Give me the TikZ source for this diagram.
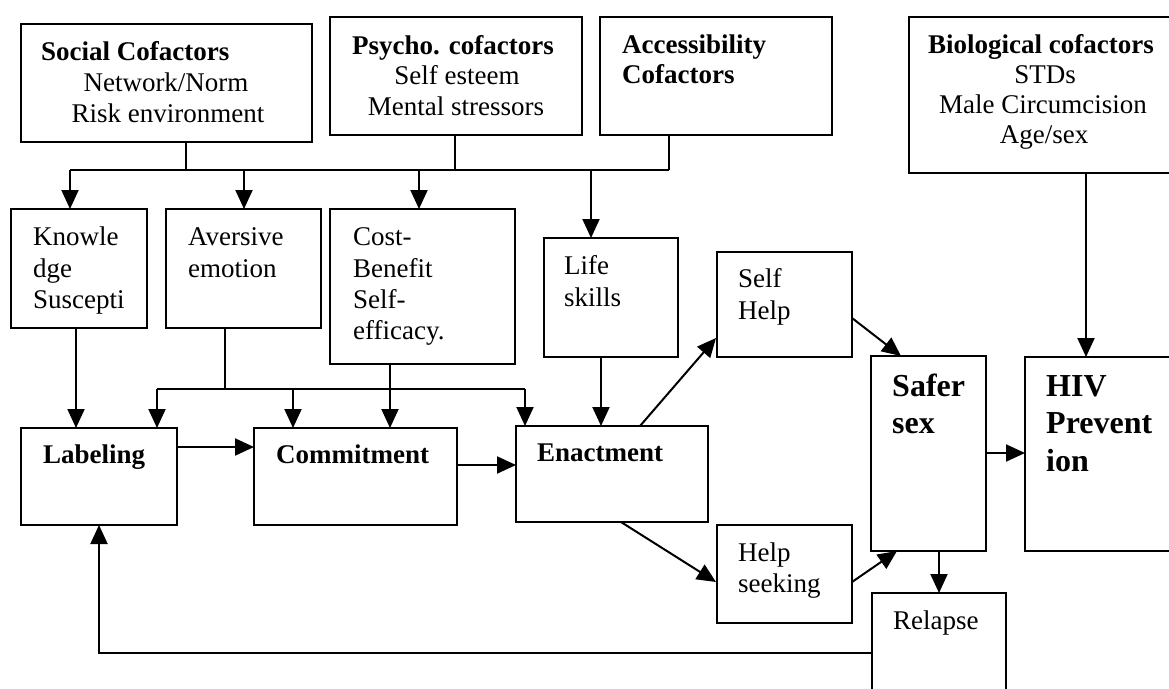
\documentclass[tikz,border=0pt]{standalone}
\usepackage{fontspec}
\setmainfont{Liberation Serif}
\usetikzlibrary{arrows.meta}
\begin{document}
\begin{tikzpicture}[x=1pt,y=-1pt,
  box/.style={draw,line width=2pt,inner sep=0pt,outer sep=0pt,anchor=north west},
  ln/.style={line width=2pt},
  arr/.style={line width=2pt,-{Triangle[length=19pt,width=17pt]}},
  tl/.style={inner sep=0pt,anchor=base west,font=\fontsize{27}{31}\selectfont},
  tc/.style={inner sep=0pt,anchor=base,font=\fontsize{27}{31}\selectfont},
  tb/.style={inner sep=0pt,anchor=base west,font=\fontsize{27}{31}\selectfont\bfseries},
  tbc/.style={inner sep=0pt,anchor=base,font=\fontsize{27}{31}\selectfont\bfseries},
  tB/.style={inner sep=0pt,anchor=base west,font=\fontsize{32}{37}\selectfont\bfseries}]
\clip (0,0) rectangle (1169,688);
\fill[white] (0,0) rectangle (1169,688);

% boxes
\node[box,minimum width=291,minimum height=118] (soc) at (21,24) {};
\node[box,minimum width=252,minimum height=118] (psy) at (330,17) {};
\node[box,minimum width=232,minimum height=118] (acc) at (600,17) {};
\node[box,minimum width=271,minimum height=156] (bio) at (909,17) {};
\node[box,minimum width=136,minimum height=119] (knw) at (11,209) {};
\node[box,minimum width=155,minimum height=119] (avr) at (166,209) {};
\node[box,minimum width=185,minimum height=155] (cst) at (330,209) {};
\node[box,minimum width=134,minimum height=119] (life) at (544,238) {};
\node[box,minimum width=135,minimum height=105] (shelp) at (717,252) {};
\node[box,minimum width=135,minimum height=98] (hseek) at (717,525) {};
\node[box,minimum width=115,minimum height=195] (safer) at (871,356) {};
\node[box,minimum width=175,minimum height=194] (hiv) at (1025,357) {};
\node[box,minimum width=156,minimum height=97] (lab) at (21,428) {};
\node[box,minimum width=203,minimum height=97] (com) at (254,428) {};
\node[box,minimum width=192,minimum height=96] (ena) at (516,426) {};
\node[box,minimum width=134,minimum height=140] (rel) at (872,593) {};

% texts
\node[tb] (soc1) at (41,60) {Social Cofactors};
\node[tc] (soc2) at (166,91) {Network/Norm};
\node[tc] (soc3) at (168,122) {Risk environment};
\node[tb] (psy1) at (352,54) {Psycho. cofactors};
\node[tc] (psy2) at (457,84) {Self esteem};
\node[tc] (psy3) at (456,115) {Mental stressors};
\node[tb] (acc1) at (622,53) {Accessibility};
\node[tb] (acc2) at (622,83) {Cofactors};
\node[tbc] (bio1) at (1041,53) {Biological cofactors};
\node[tc] (bio2) at (1045,83) {STDs};
\node[tc] (bio3) at (1043,113) {Male Circumcision};
\node[tc] (bio4) at (1044,143) {Age/sex};
\node[tl] (knw1) at (33,245) {Knowle};
\node[tl] (knw2) at (33,277) {dge};
\node[tl] (knw3) at (33,308) {Suscepti};
\node[tl] (avr1) at (188,245) {Aversive};
\node[tl] (avr2) at (188,277) {emotion};
\node[tl] (cst1) at (353,245) {Cost-};
\node[tl] (cst2) at (353,277) {Benefit};
\node[tl] (cst3) at (353,308) {Self-};
\node[tl] (cst4) at (353,339) {efficacy.};
\node[tl] (life1) at (564,274) {Life};
\node[tl] (life2) at (564,306) {skills};
\node[tl] (sh1) at (738,287) {Self};
\node[tl] (sh2) at (738,319) {Help};
\node[tl] (hs1) at (738,561) {Help};
\node[tl] (hs2) at (738,592) {seeking};
\node[tB] (sf1) at (892,396) {Safer};
\node[tB] (sf2) at (892,433) {sex};
\node[tB] (hiv1) at (1046,396) {HIV};
\node[tB] (hiv2) at (1046,433) {Prevent};
\node[tB] (hiv3) at (1046,471) {ion};
\node[tl] (rel1) at (893,629) {Relapse};
\node[tb] (ena1) at (537,461) {Enactment};
\node[tb] (lab1) at (43,463) {Labeling};
\node[tb] (com1) at (276,463) {Commitment};

% helper coordinates
\coordinate (s1) at (186,170);
\coordinate (s2) at (455,170);
\coordinate (s3) at (669,170);
\coordinate (b1) at (70,170);
\coordinate (b2) at (244,170);
\coordinate (b3) at (419,170);
\coordinate (b4) at (591,170);
\coordinate (a0) at (225,389);
\coordinate (a1) at (157,389);
\coordinate (a2) at (293,389);
\coordinate (a3) at (525,389);
\coordinate (c1) at (390,389);
\coordinate (k1) at (76,389);
\coordinate (l1) at (601,389);
\coordinate (h1) at (200,447);
\coordinate (h2) at (480,465);
\coordinate (e1) at (640,426);
\coordinate (e2) at (716,338);
\coordinate (e3) at (621,522);
\coordinate (e4) at (716,582);
\coordinate (f1) at (852,318);
\coordinate (f2) at (901,356);
\coordinate (g1) at (852,582);
\coordinate (g2) at (897,551);
\coordinate (v1) at (1000,453);
\coordinate (r1) at (939,560);
\coordinate (q1) at (1086,300);
\coordinate (fb) at (99,653);

% top bus
\draw[ln] (s1 |- soc.south) -- (s1);
\draw[ln] (s2 |- psy.south) -- (s2);
\draw[ln] (s3 |- acc.south) -- (s3);
\draw[ln] (b1) -- (s3);
\draw[arr] (b1) -- (b1 |- knw.north);
\draw[arr] (b2) -- (b2 |- avr.north);
\draw[arr] (b3) -- (b3 |- cst.north);
\draw[arr] (b4) -- (b4 |- life.north);

% middle bus
\draw[ln] (a0 |- avr.south) -- (a0);
\draw[ln] (a1) -- (a3);
\draw[arr] (a1) -- (a1 |- lab.north);
\draw[arr] (a2) -- (a2 |- com.north);
\draw[arr] (a3) -- (a3 |- ena.north);
\draw[arr] (c1 |- cst.south) -- (c1 |- com.north);
\draw[arr] (k1 |- knw.south) -- (k1 |- lab.north);
\draw[arr] (l1 |- life.south) -- (l1 |- ena.north);

% main flow
\draw[arr] (h1 -| lab.east) -- (h1 -| com.west);
\draw[arr] (h2 -| com.east) -- (h2 -| ena.west);
\draw[arr] (e1) -- (e2);
\draw[arr] (e3) -- (e4);
\draw[arr] (f1) -- (f2);
\draw[arr] (g1) -- (g2);
\draw[arr] (v1 -| safer.east) -- (v1 -| hiv.west);
\draw[arr] (r1 |- safer.south) -- (r1 |- rel.north);
\draw[arr] (q1 |- bio.south) -- (q1 |- hiv.north);
\draw[arr] (fb -| rel.west) -- (fb) -- (fb |- lab.south);
\end{tikzpicture}
\end{document}
